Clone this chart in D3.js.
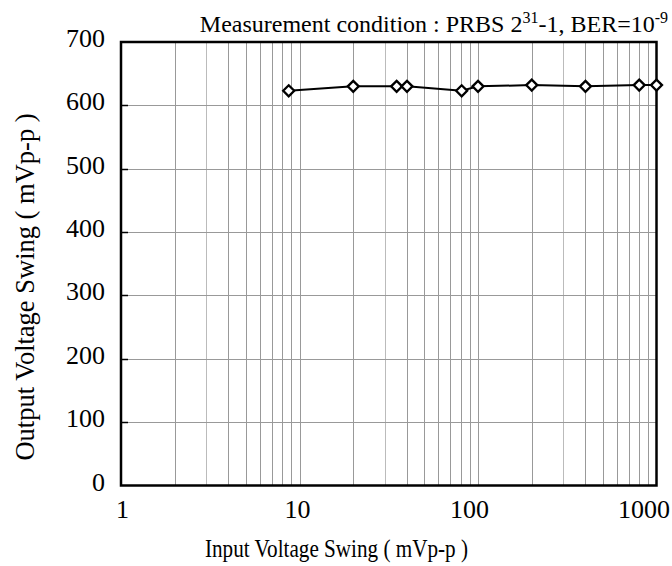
<!DOCTYPE html>
<html>
<head>
<meta charset="utf-8">
<script src="https://cdn.jsdelivr.net/npm/d3@7"></script>
<style>
  body { margin: 0; background: #fff; }
  text { font-family: "Liberation Serif", "Times New Roman", serif; fill: #000; }
</style>
</head>
<body>
<div id="chart"></div>
<script>
const inputSwing = [8.7, 20, 35, 40, 81, 100, 200, 400, 800, 1000];
const outputSwing = [623, 630, 630, 630, 623, 630, 632, 630, 632, 632];
const xTicks = [1, 10, 100, 1000];
const yTicks = [0, 100, 200, 300, 400, 500, 600, 700];

const width = 672, height = 566;
const margin = { top: 42, right: 15, bottom: 80, left: 121 };
const plotW = 656.5 - margin.left;
const plotH = 485.5 - margin.top;

const svg = d3.select('#chart').append('svg')
    .attr('width', width)
    .attr('height', height);

const g = svg.append('g')
    .attr('transform', `translate(${margin.left},${margin.top})`);

const x = d3.scaleLog().domain([1, 1000]).range([0, plotW]);
const y = d3.scaleLinear().domain([0, 700]).range([plotH, 0]);

// grid lines for every 1..9 in each decade
const minor = [];
for (let d = 1; d < 1000; d *= 10) {
    for (let k = 2; k <= 9; k++) minor.push(d * k);
}
minor.push(10, 100);

g.selectAll('.vgrid')
    .data(minor)
    .enter().append('line')
    .attr('class', 'vgrid')
    .attr('x1', d => Math.round(x(d)) + 0.5)
    .attr('x2', d => Math.round(x(d)) + 0.5)
    .attr('y1', 0)
    .attr('y2', plotH)
    .attr('stroke', d => (String(d)[0] === '3') ? '#bbb' : '#999')
    .attr('stroke-width', 1);

g.selectAll('.hgrid')
    .data(yTicks.slice(1, -1))
    .enter().append('line')
    .attr('class', 'hgrid')
    .attr('x1', 0)
    .attr('x2', plotW)
    .attr('y1', d => Math.round(y(d)) + 0.5)
    .attr('y2', d => Math.round(y(d)) + 0.5)
    .attr('stroke', '#999')
    .attr('stroke-width', 1);

// inner tick marks on the y axis
g.selectAll('.ytick')
    .data(yTicks.slice(1, -1))
    .enter().append('line')
    .attr('x1', 0)
    .attr('x2', 7)
    .attr('y1', d => Math.round(y(d)) + 0.5)
    .attr('y2', d => Math.round(y(d)) + 0.5)
    .attr('stroke', '#000')
    .attr('stroke-width', 1.5);

// frame
g.append('rect')
    .attr('width', plotW)
    .attr('height', plotH)
    .attr('fill', 'none')
    .attr('stroke', '#000')
    .attr('stroke-width', 2.5);

// tick labels
const xLabelShift = { 1: 1.5, 10: -2, 100: -8.5, 1000: -12.5 };
g.selectAll('.xlabel')
    .data(xTicks)
    .enter().append('text')
    .attr('x', d => x(d) + xLabelShift[d])
    .attr('y', plotH + 32)
    .attr('text-anchor', 'middle')
    .style('font-size', '26px')
    .text(d => d);

g.selectAll('.ylabel')
    .data(yTicks)
    .enter().append('text')
    .attr('x', -16)
    .attr('y', d => y(d) + 5)
    .attr('text-anchor', 'end')
    .style('font-size', '26px')
    .text(d => d);

// series
const line = d3.line()
    .x((d, i) => x(inputSwing[i]))
    .y(d => y(d));

g.append('path')
    .datum(outputSwing)
    .attr('d', line)
    .attr('fill', 'none')
    .attr('stroke', '#000')
    .attr('stroke-width', 2);

g.selectAll('.pt')
    .data(outputSwing)
    .enter().append('path')
    .attr('class', 'pt')
    .attr('transform', (d, i) => `translate(${x(inputSwing[i])},${y(d)})`)
    .attr('d', 'M0,-5.5L5.5,0L0,5.5L-5.5,0Z')
    .attr('fill', '#fff')
    .attr('stroke', '#000')
    .attr('stroke-width', 2.3);

// axis titles
svg.append('text')
    .attr('x', 336.5)
    .attr('y', 557)
    .attr('text-anchor', 'middle')
    .attr('textLength', 263)
    .attr('lengthAdjust', 'spacingAndGlyphs')
    .style('font-size', '24.5px')
    .text('Input Voltage Swing ( mVp-p )');

svg.append('text')
    .attr('transform', 'translate(34,287) rotate(-90)')
    .attr('text-anchor', 'middle')
    .style('font-size', '26.5px')
    .text('Output Voltage Swing ( mVp-p )');

// measurement note
const note = svg.append('text')
    .attr('x', 668)
    .attr('y', 32)
    .attr('text-anchor', 'end')
    .style('font-size', '24px');
note.append('tspan').text('Measurement condition : PRBS 2');
note.append('tspan').attr('dy', -9).style('font-size', '16px').text('31');
note.append('tspan').attr('dy', 9).text('-1, BER=10');
note.append('tspan').attr('dy', -9).style('font-size', '16px').text('-9');
</script>
</body>
</html>
